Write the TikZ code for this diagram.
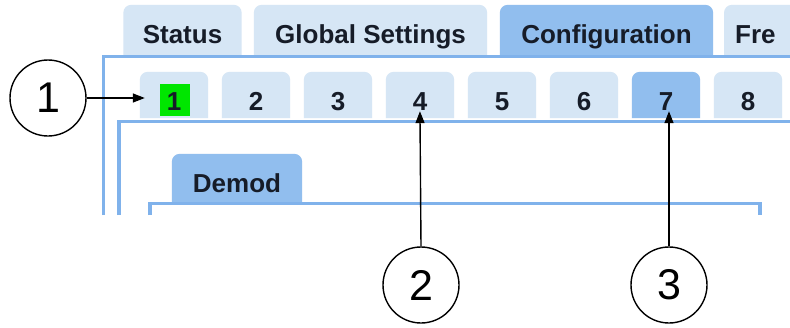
\documentclass[tikz,border=0pt]{standalone}
\usepackage{fontspec}
\setmainfont{Liberation Sans}
\usetikzlibrary{arrows.meta,backgrounds}

\definecolor{tablight}{RGB}{214,230,245}
\definecolor{tabdark}{RGB}{145,190,238}
\definecolor{framecol}{RGB}{128,178,235}
\definecolor{inkcol}{RGB}{22,28,40}
\definecolor{activegreen}{RGB}{0,230,0}

\tikzset{
  tablabel/.style={inner xsep=0pt, inner ysep=0pt, anchor=base, text=inkcol,
    font=\bfseries\fontsize{26}{30}\selectfont},
  toptab/.style={tablabel, text height=38pt, text depth=12pt},
  numtab/.style={tablabel, text height=38pt, text depth=8pt, minimum width=68pt},
  subtab/.style={tablabel, text height=38pt, text depth=11pt},
  callout/.style={circle, draw=black, line width=1.4pt, minimum size=76pt,
    inner sep=0pt, font=\fontsize{43}{50}\selectfont},
  pointer/.style={draw=black, line width=1.4pt, -{Triangle[length=12pt,width=9pt]}},
  frameline/.style={draw=framecol, line width=3.5pt, line join=miter},
}

% tab body with rounded top corners and a square bottom
\newcommand\tabbody[2]{\fill[#2, rounded corners=8pt] (#1.south west) |- (#1.north east) -- (#1.south east);}

\begin{document}
\begin{tikzpicture}[x=1pt,y=-1pt]
\useasboundingbox (0,0) rectangle (790,327);
\clip (0,0) rectangle (790,327);

% top row of tabs
\node[toptab, minimum width=118pt] (status) at (182.5,43) {Status};
\node[toptab, minimum width=233pt] (global) at (370.5,43) {Global Settings};
\node[toptab, minimum width=213pt] (config) at (606.5,43) {Configuration};
\node[toptab, anchor=base west, text width=70pt, inner xsep=11pt, align=left] (freq) at (724,43) {Fre};

% channel tabs
\foreach \i in {1,...,8} {
  \node[numtab] (ch\i) at ({174+82*(\i-1)},110) {\i};
}

% sub tab
\node[subtab, minimum width=130pt] (demod) at (237,192) {Demod};

\begin{scope}[on background layer]
  \fill[white] (0,0) rectangle (790,327);
  \tabbody{status}{tablight}
  \tabbody{global}{tablight}
  \tabbody{config}{tabdark}
  \tabbody{freq}{tablight}
  \foreach \i in {1,2,3,4,5,6,8} { \tabbody{ch\i}{tablight} }
  \tabbody{ch7}{tabdark}
  \tabbody{demod}{tabdark}
  \fill[activegreen] (159.5,84) rectangle (190,116);
  % frame borders
  \draw[frameline] (103.5,215) -- (103.5,56.5) -- (800,56.5);
  \draw[frameline] (119,215) -- (119,121.5) -- (800,121.5);
  \draw[frameline] (150,215) -- (150,203.5) -- (760,203.5) -- (760,215);
\end{scope}

% numbered callouts
\node[callout] (c1) at (48,98) {1};
\node[callout] (c2) at (421,285) {2};
\node[callout] (c3) at (669,285) {3};

\draw[pointer, shorten >=-5pt] (c1.east) -- (ch1.west |- c1.east);
\draw[pointer, shorten >=-7pt] (c2.north) -- (ch4.south);
\draw[pointer, shorten >=-7pt] (c3.north) -- (c3.north |- ch7.south);
\end{tikzpicture}
\end{document}
